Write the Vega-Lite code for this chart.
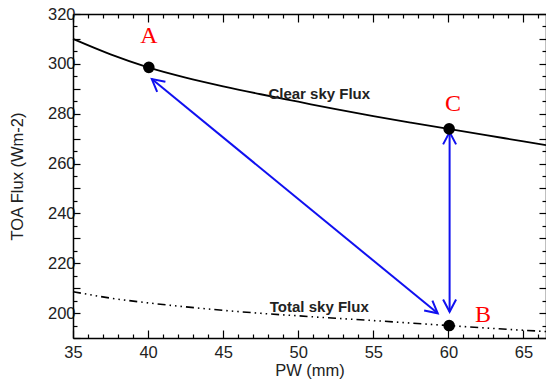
{
  "$schema": "https://vega.github.io/schema/vega-lite/v6.json",
  "width": 473,
  "height": 324,
  "autosize": {"type": "none"},
  "padding": {"left": 73, "top": 14, "right": 0, "bottom": 44},
  "background": "white",
  "config": {
    "view": {"stroke": null},
    "font": "Liberation Sans",
    "axis": {
      "grid": false,
      "domainColor": "black",
      "domainWidth": 1.5,
      "tickColor": "black",
      "tickWidth": 1.2,
      "labelFont": "Liberation Sans",
      "labelFontSize": 16.5,
      "labelColor": "#222",
      "titleFont": "Liberation Sans",
      "titleFontSize": 16.5,
      "titleFontWeight": "normal",
      "titleColor": "#222"
    }
  },
  "datasets": {
    "clear": [
      {"pw": 35, "flux": 310.0}, {"pw": 37.5, "flux": 303.8}, {"pw": 40, "flux": 298.6},
      {"pw": 42.5, "flux": 294.5}, {"pw": 45, "flux": 291.0}, {"pw": 47.5, "flux": 287.8},
      {"pw": 50, "flux": 284.8}, {"pw": 52.5, "flux": 281.8}, {"pw": 55, "flux": 279.0},
      {"pw": 57.5, "flux": 276.4}, {"pw": 60, "flux": 273.9}, {"pw": 62.5, "flux": 271.4},
      {"pw": 65, "flux": 268.9}, {"pw": 66.5, "flux": 267.4}
    ],
    "total": [
      {"pw": 35, "flux": 208.6}, {"pw": 37.5, "flux": 206.0}, {"pw": 40, "flux": 204.1},
      {"pw": 42.5, "flux": 202.5}, {"pw": 45, "flux": 201.1}, {"pw": 47.5, "flux": 199.9},
      {"pw": 50, "flux": 198.9}, {"pw": 52.5, "flux": 197.9}, {"pw": 55, "flux": 197.0},
      {"pw": 57.5, "flux": 196.0}, {"pw": 60, "flux": 195.0}, {"pw": 62.5, "flux": 194.0},
      {"pw": 65, "flux": 193.1}, {"pw": 66.5, "flux": 192.6}
    ],
    "points": [
      {"name": "A", "pw": 40.05, "flux": 298.6},
      {"name": "C", "pw": 60.05, "flux": 273.9},
      {"name": "B", "pw": 60.05, "flux": 195.0}
    ],
    "letters": [
      {"name": "A", "pw": 40.05, "flux": 311.0},
      {"name": "C", "pw": 60.3, "flux": 284.0},
      {"name": "B", "pw": 62.3, "flux": 199.3}
    ],
    "curvelabels": [
      {"label": "Clear sky Flux", "pw": 51.4, "flux": 288.1},
      {"label": "Total sky Flux", "pw": 51.4, "flux": 202.6}
    ],
    "arrows": [
      {"id": "AB", "pw1": 40.25, "f1": 293.9, "pw2": 59.29, "f2": 199.9},
      {"id": "CB", "pw1": 60.08, "f1": 272.6, "pw2": 60.08, "f2": 200.5}
    ]
  },
  "resolve": {
    "scale": {"x": "shared", "y": "shared"},
    "axis": {"x": "independent", "y": "independent"}
  },
  "layer": [
    {
      "data": {"name": "clear"},
      "mark": {"type": "line", "color": "black", "strokeWidth": 1.8, "interpolate": "monotone"},
      "encoding": {
        "x": {
          "field": "pw", "type": "quantitative",
          "scale": {"domain": [35, 66.5], "nice": false, "zero": false},
          "axis": {
            "orient": "bottom", "title": "PW (mm)",
            "values": [35,36,37,38,39,40,41,42,43,44,45,46,47,48,49,50,51,52,53,54,55,56,57,58,59,60,61,62,63,64,65,66],
            "labelExpr": "datum.value % 5 === 0 ? datum.label : ''",
            "tickSize": {"condition": {"test": "datum.value % 5 === 0", "value": -8}, "value": -4},
            "labelPadding": 14, "titlePadding": 2, "labelFlush": false
          }
        },
        "y": {
          "field": "flux", "type": "quantitative",
          "scale": {"domain": [190, 320], "nice": false, "zero": false},
          "axis": {
            "orient": "left", "title": "TOA Flux (Wm-2)",
            "values": [190,195,200,205,210,215,220,225,230,235,240,245,250,255,260,265,270,275,280,285,290,295,300,305,310,315,320],
            "labelExpr": "datum.value % 20 === 0 ? datum.label : ''",
            "tickSize": {"condition": {"test": "datum.value % 10 === 0", "value": -7}, "value": -4},
            "labelPadding": 5, "titlePadding": 22, "labelFlush": false
          }
        }
      }
    },
    {
      "data": {"name": "total"},
      "mark": {"type": "line", "color": "black", "strokeWidth": 1.6, "interpolate": "monotone", "strokeDash": [8, 4, 1.5, 4, 1.5, 4, 1.5, 4]},
      "encoding": {
        "x": {
          "field": "pw", "type": "quantitative",
          "axis": {
            "orient": "top", "title": null, "labels": false,
            "values": [35,36,37,38,39,40,41,42,43,44,45,46,47,48,49,50,51,52,53,54,55,56,57,58,59,60,61,62,63,64,65,66],
            "tickSize": {"condition": {"test": "datum.value % 5 === 0", "value": -8}, "value": -4}
          }
        },
        "y": {
          "field": "flux", "type": "quantitative",
          "axis": {
            "orient": "right", "title": null, "labels": false,
            "values": [190,195,200,205,210,215,220,225,230,235,240,245,250,255,260,265,270,275,280,285,290,295,300,305,310,315,320],
            "tickSize": {"condition": {"test": "datum.value % 10 === 0", "value": -7}, "value": -4}
          }
        }
      }
    },
    {
      "data": {"name": "arrows"},
      "mark": {"type": "rule", "color": "#1010f0", "strokeWidth": 2},
      "encoding": {
        "x": {"field": "pw1", "type": "quantitative", "axis": null},
        "y": {"field": "f1", "type": "quantitative", "axis": null},
        "x2": {"field": "pw2"},
        "y2": {"field": "f2"}
      }
    },
    {
      "data": {"name": "arrows"},
      "transform": [{"filter": "datum.id === 'AB'"}],
      "mark": {"type": "point", "shape": "M-0.53,1L0,0L0.53,1", "filled": false, "stroke": "#1010f0", "strokeWidth": 2, "size": 600, "angle": 309.45, "opacity": 1},
      "encoding": {
        "x": {"field": "pw1", "type": "quantitative", "axis": null},
        "y": {"field": "f1", "type": "quantitative", "axis": null}
      }
    },
    {
      "data": {"name": "arrows"},
      "transform": [{"filter": "datum.id === 'AB'"}],
      "mark": {"type": "point", "shape": "M-0.53,1L0,0L0.53,1", "filled": false, "stroke": "#1010f0", "strokeWidth": 2, "size": 600, "angle": 129.45, "opacity": 1},
      "encoding": {
        "x": {"field": "pw2", "type": "quantitative", "axis": null},
        "y": {"field": "f2", "type": "quantitative", "axis": null}
      }
    },
    {
      "data": {"name": "arrows"},
      "transform": [{"filter": "datum.id === 'CB'"}],
      "mark": {"type": "point", "shape": "M-0.53,1L0,0L0.53,1", "filled": false, "stroke": "#1010f0", "strokeWidth": 2, "size": 600, "angle": 0, "opacity": 1},
      "encoding": {
        "x": {"field": "pw1", "type": "quantitative", "axis": null},
        "y": {"field": "f1", "type": "quantitative", "axis": null}
      }
    },
    {
      "data": {"name": "arrows"},
      "transform": [{"filter": "datum.id === 'CB'"}],
      "mark": {"type": "point", "shape": "M-0.53,1L0,0L0.53,1", "filled": false, "stroke": "#1010f0", "strokeWidth": 2, "size": 600, "angle": 180, "opacity": 1},
      "encoding": {
        "x": {"field": "pw2", "type": "quantitative", "axis": null},
        "y": {"field": "f2", "type": "quantitative", "axis": null}
      }
    },
    {
      "data": {"name": "points"},
      "mark": {"type": "circle", "color": "black", "size": 135, "opacity": 1},
      "encoding": {
        "x": {"field": "pw", "type": "quantitative", "axis": null},
        "y": {"field": "flux", "type": "quantitative", "axis": null}
      }
    },
    {
      "data": {"name": "letters"},
      "mark": {"type": "text", "font": "Liberation Serif", "fontSize": 24, "color": "#ff0000", "align": "center", "baseline": "middle"},
      "encoding": {
        "x": {"field": "pw", "type": "quantitative", "axis": null},
        "y": {"field": "flux", "type": "quantitative", "axis": null},
        "text": {"field": "name"}
      }
    },
    {
      "data": {"name": "curvelabels"},
      "mark": {"type": "text", "font": "Liberation Sans", "fontSize": 15, "fontWeight": "bold", "color": "#222", "align": "center", "baseline": "middle"},
      "encoding": {
        "x": {"field": "pw", "type": "quantitative", "axis": null},
        "y": {"field": "flux", "type": "quantitative", "axis": null},
        "text": {"field": "label"}
      }
    }
  ]
}
